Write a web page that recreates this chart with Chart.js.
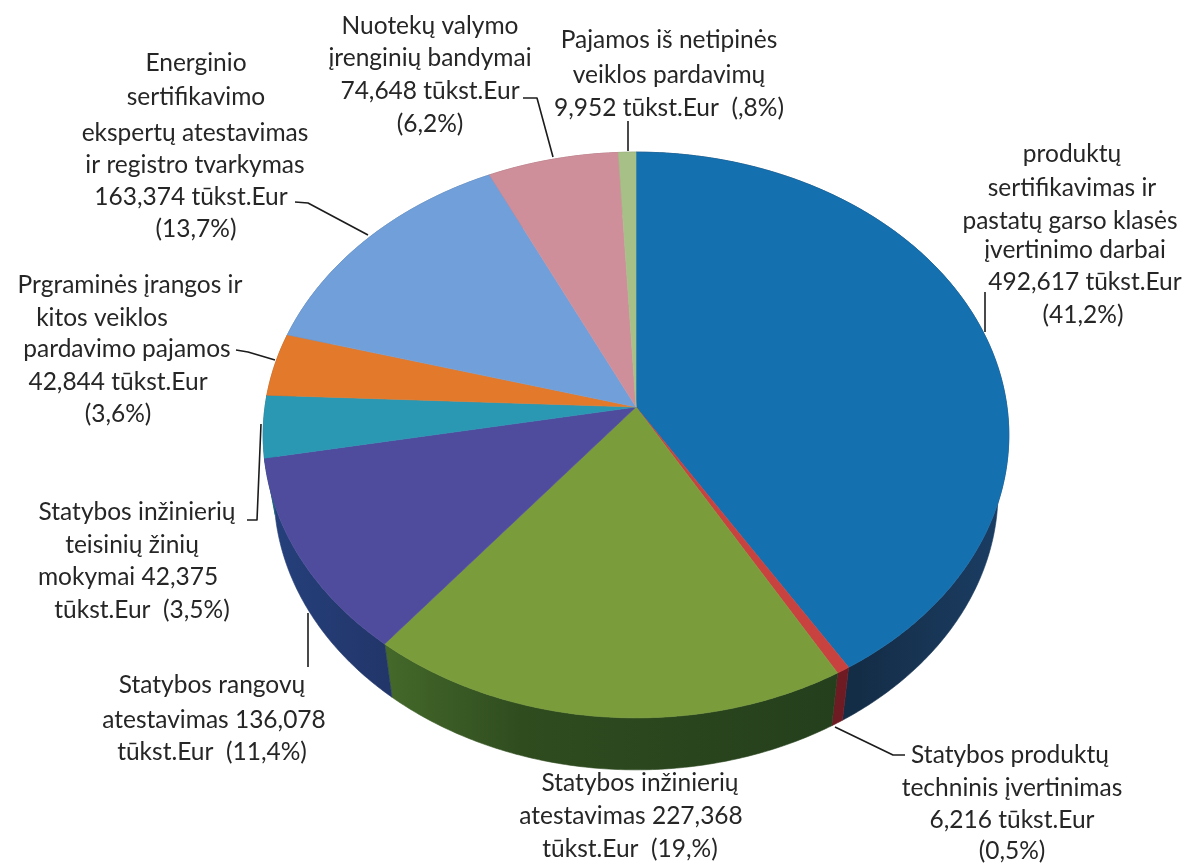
<!DOCTYPE html>
<html><head><meta charset="utf-8">
<style>html,body{margin:0;padding:0;background:#fff}canvas{display:block}</style>
<script src="https://cdn.jsdelivr.net/npm/chart.js@4"></script>
</head><body><canvas id="c" width="1194" height="863"></canvas>
<script>
const categories = ["produktų sertifikavimas ir pastatų garso klasės įvertinimo darbai","Statybos produktų techninis įvertinimas","Statybos inžinierių atestavimas","Statybos rangovų atestavimas","Statybos inžinierių teisinių žinių mokymai","Prgraminės įrangos ir kitos veiklos pardavimo pajamos","Energinio sertifikavimo ekspertų atestavimas ir registro tvarkymas","Nuotekų valymo įrenginių bandymai","Pajamos iš netipinės veiklos pardavimų"];
const values = [492.617,6.216,227.368,136.078,42.375,42.844,163.374,74.648,9.952];
const topColors = ["#1570b0","#c8423f","#7b9c3b","#4f4c9d","#2a97b3","#e2792b","#719fd9","#cf8f9a","#a7c088"];
const wallLeft  = ["#1b3d63","#6f1b24","#44692a","#25407c","#1b6a80","#a0561e","#4a6f9c","#925f68","#76875f"];
const wallRight = ["#142d47","#6a1a22","#243f1c","#22366a","#1b6a80","#a0561e","#4a6f9c","#925f68","#76875f"];
const labelLines = [
 ["Nuotekų valymo",430,26],["įrenginių bandymai",430,58],["74,648 tūkst.Eur",430,91],["(6,2%)",430,124],
 ["Pajamos iš netipinės",669,40],["veiklos pardavimų",669,75],["9,952 tūkst.Eur  (,8%)",669,108],
 ["Energinio",196,63],["sertifikavimo",196,97],["ekspertų atestavimas",195,133],["ir registro tvarkymas",195,165],["163,374 tūkst.Eur",191,197],["(13,7%)",196,229],
 ["Prgraminės įrangos ir",130,285],["kitos veiklos",102,318],["pardavimo pajamos",127,349],["42,844 tūkst.Eur",118,382],["(3,6%)",118,414],
 ["Statybos inžinierių",137,512],["teisinių žinių",132,545],["mokymai 42,375",128,577],["tūkst.Eur  (3,5%)",142,610],
 ["Statybos rangovų",212,685],["atestavimas 136,078",214,720],["tūkst.Eur  (11,4%)",212,752],
 ["Statybos inžinierių",640,783],["atestavimas 227,368",631,816],["tūkst.Eur  (19,%)",630,849],
 ["Statybos produktų",1010,755],["techninis įvertinimas",1012,788],["6,216 tūkst.Eur",1012,820],["(0,5%)",1012,851],
 ["produktų",1072,154],["sertifikavimas ir",1072,188],["pastatų garso klasės",1070,221],["įvertinimo darbai",1075,250],["492,617 tūkst.Eur",1085,282],["(41,2%)",1083,315]
];
const leaders = [
 [[985,332],[985,292]],
 [[835,727],[893,755],[905,755]],
 [[308,613],[308,667]],
 [[261,424],[257,520],[247,520]],
 [[236,350],[248,352],[275,360]],
 [[295,202],[308,203],[368,235]],
 [[523,98],[537,98],[553,157]],
 [[628,121],[628,151]]
];
const persp = 0.099, tiltRatio = 0.755;
const lowerScale = 0.971, lowerTilt = 0.7416, lowerDrop = 57.5;

function project(arc, ang, lower){
  const d = 1 - persp*Math.sin(ang);
  const A = arc.outerRadius*(lower?lowerScale:1);
  const B = arc.outerRadius*(lower?lowerTilt:tiltRatio);
  return [arc.x + A*Math.cos(ang)/d, arc.y + (lower?lowerDrop:0) + B*Math.sin(ang)/d];
}
function rim(ctx, arc, a0, a1, lower){
  const n = Math.max(2, Math.ceil(Math.abs(a1-a0)/0.01));
  for(let i=0;i<=n;i++){
    const p = project(arc, a0+(a1-a0)*i/n, lower);
    ctx.lineTo(p[0],p[1]);
  }
}
Chart.ArcElement.prototype.draw = function(ctx){
  ctx.save();
  ctx.fillStyle = this.options.backgroundColor;
  ctx.strokeStyle = this.options.backgroundColor;
  ctx.lineWidth = 0.6;
  ctx.beginPath();
  ctx.moveTo(this.x,this.y);
  rim(ctx,this,this.startAngle,this.endAngle,false);
  ctx.closePath();
  ctx.fill(); ctx.stroke();
  ctx.restore();
};
function wallFill(ctx,i){
  const ends = {0:[860,1000],2:[385,840],3:[270,385]}[i];
  if(!ends) return wallLeft[i];
  const g = ctx.createLinearGradient(ends[0],0,ends[1],0);
  g.addColorStop(0, i===0?wallRight[i]:wallLeft[i]);
  if(i===2) g.addColorStop(0.3,"#2f4c1f");
  g.addColorStop(1, i===0?wallLeft[i]:wallRight[i]);
  return g;
}
const walls = {
  id:'walls',
  beforeDatasetsDraw(chart){
    const ctx = chart.ctx;
    chart.getDatasetMeta(0).data.forEach((arc,i)=>{
      const a0 = arc.startAngle, a1 = arc.endAngle;
      ctx.save();
      ctx.fillStyle = ctx.strokeStyle = wallFill(ctx,i);
      ctx.lineWidth = 0.6;
      ctx.beginPath();
      const s = project(arc,a0,false); ctx.moveTo(s[0],s[1]);
      rim(ctx,arc,a0,a1,false);
      rim(ctx,arc,a1,a0,true);
      ctx.closePath(); ctx.fill(); ctx.stroke();
      ctx.restore();
    });
  }
};
const annotations = {
  id:'annotations',
  afterDraw(chart){
    const ctx = chart.ctx;
    ctx.save();
    ctx.strokeStyle = '#1c1c1c'; ctx.lineWidth = 1.6; ctx.lineJoin='round';
    leaders.forEach(l=>{ctx.beginPath();l.forEach((p,i)=>i?ctx.lineTo(p[0],p[1]):ctx.moveTo(p[0],p[1]));ctx.stroke();});
    ctx.fillStyle = '#262626';
    ctx.font = '24.5px Lato, Carlito, sans-serif';
    ctx.textAlign='center'; ctx.textBaseline='middle';
    labelLines.forEach(t=>ctx.fillText(t[0],t[1],t[2]));
    ctx.restore();
  }
};
new Chart(document.getElementById('c'),{
  type:'pie',
  data:{labels:categories,datasets:[{data:values,backgroundColor:topColors,borderWidth:0}]},
  options:{
    responsive:false,animation:false,radius:371,
    layout:{padding:{left:78,bottom:49}},
    plugins:{legend:{display:false},tooltip:{enabled:false}}
  },
  plugins:[walls,annotations]
});
</script></body></html>
